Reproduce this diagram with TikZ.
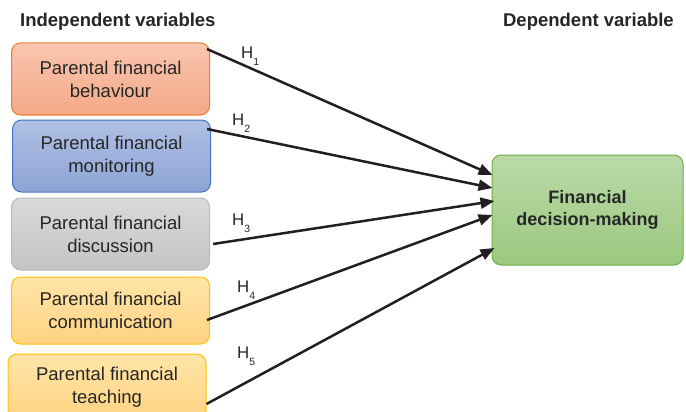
\documentclass[tikz,border=0pt]{standalone}
\usepackage{fontspec}
\setmainfont{Liberation Sans}
\usepackage{tikz}
\usetikzlibrary{arrows.meta,positioning}
\usepackage{xcolor}
\definecolor{cOrangeT}{RGB}{249,198,175}
\definecolor{cOrangeB}{RGB}{244,168,136}
\definecolor{cOrangeD}{RGB}{237,125,49}
\definecolor{cBlueT}{RGB}{176,192,229}
\definecolor{cBlueB}{RGB}{141,164,213}
\definecolor{cBlueD}{RGB}{68,114,196}
\definecolor{cGrayT}{RGB}{218,218,218}
\definecolor{cGrayB}{RGB}{196,196,196}
\definecolor{cGrayD}{RGB}{185,185,185}
\definecolor{cYellowT}{RGB}{255,229,168}
\definecolor{cYellowB}{RGB}{255,211,130}
\definecolor{cYellowD}{RGB}{255,192,0}
\definecolor{cGreenT}{RGB}{186,217,168}
\definecolor{cGreenB}{RGB}{155,201,127}
\definecolor{cGreenD}{RGB}{112,173,71}
\definecolor{cText}{RGB}{38,38,38}
\definecolor{cDark}{RGB}{35,31,32}
\tikzset{
  basebox/.style={rectangle,rounded corners=9pt,line width=1pt,align=center,
                  text=cText,font=\fontsize{18.5}{23}\selectfont,inner sep=0pt,
                  minimum width=198pt,minimum height=72pt},
  orangenode/.style={basebox,draw=cOrangeD,top color=cOrangeT,bottom color=cOrangeB},
  bluenode/.style={basebox,draw=cBlueD,top color=cBlueT,bottom color=cBlueB},
  graynode/.style={basebox,draw=cGrayD,top color=cGrayT,bottom color=cGrayB},
  yellownode/.style={basebox,draw=cYellowD,top color=cYellowT,bottom color=cYellowB},
  greennode/.style={basebox,draw=cGreenD,top color=cGreenT,bottom color=cGreenB,
                    font=\bfseries\fontsize{18}{22}\selectfont,
                    minimum width=191pt,minimum height=110pt},
  headtxt/.style={font=\bfseries\fontsize{18.5}{22}\selectfont,text=cText,inner sep=0pt},
  hlab/.style={font=\fontsize{16.8}{18}\selectfont,text=cText,inner sep=0pt,anchor=base west},
  arr/.style={-{Triangle[length=14pt,width=11pt]},line width=2.5pt,color=cDark}
}
\newcommand{\hsub}[1]{H\raisebox{-7pt}{\fontsize{10.5}{10.5}\selectfont #1}}

\begin{document}
\begin{tikzpicture}[x=1pt,y=-1pt]
  \clip (0,0) rectangle (686,412);

  \node[headtxt,anchor=base west] (indep) at (20,27) {Independent variables};
  \node[headtxt,anchor=base east] (dep) at (674,27) {Dependent variable};

  \node[orangenode] (behav) at (110.5,79) {Parental financial\\behaviour};
  \node[bluenode,below=4pt of behav,xshift=1pt] (monit) {Parental financial\\monitoring};
  \node[graynode,below=5pt of monit,xshift=-1pt] (discu) {Parental financial\\discussion};
  \node[yellownode,minimum height=67pt,below=6pt of discu] (commu) {Parental financial\\communication};
  \node[yellownode,minimum height=66pt,below=9pt of commu,xshift=-3.5pt] (teach) {Parental financial\\teaching};

  \node[greennode] (fdm) at (587.5,210) {Financial\\decision-making};

  \draw[arr] ([xshift=-3pt,yshift=30pt]behav.east) -- ([xshift=1pt,yshift=35pt]fdm.west);
  \draw[arr] ([xshift=-4pt,yshift=27pt]monit.east) -- ([xshift=1pt,yshift=22pt]fdm.west);
  \draw[arr] ([xshift=3pt,yshift=-10pt]discu.east) -- ([xshift=3pt,yshift=9pt]fdm.west);
  \draw[arr] ([xshift=-3pt,yshift=-9.5pt]commu.east) -- ([xshift=1pt,yshift=-5pt]fdm.west);
  \draw[arr] ([xshift=0pt,yshift=-17pt]teach.east) -- ([xshift=3pt,yshift=-38pt]fdm.west);

  \node[hlab] (h1) at (241,59) {\hsub{1}};
  \node[hlab] (h2) at (232,125) {\hsub{2}};
  \node[hlab] (h3) at (232,225) {\hsub{3}};
  \node[hlab] (h4) at (237,292) {\hsub{4}};
  \node[hlab] (h5) at (237,358) {\hsub{5}};
\end{tikzpicture}
\end{document}
